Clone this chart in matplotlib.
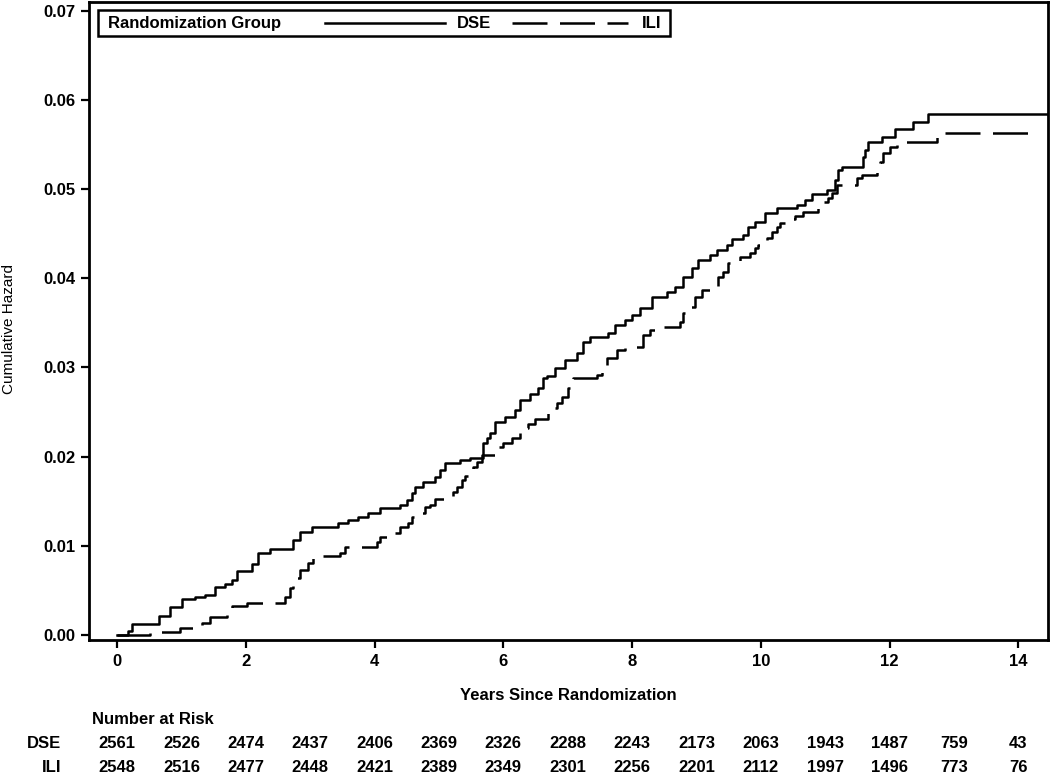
import matplotlib
matplotlib.use("Agg")
import matplotlib.pyplot as plt
import matplotlib.transforms as mtransforms
from matplotlib.patches import Rectangle
from matplotlib.ticker import FormatStrFormatter

plt.rcParams["font.family"] = ["Liberation Sans", "DejaVu Sans"]

# cumulative hazard step points (years, hazard)
dse_t = [0.00, 0.17, 0.23, 0.65, 0.82, 1.01, 1.21, 1.37, 1.52, 1.68, 1.79, 1.86,
         2.10, 2.19, 2.38, 2.73, 2.84, 3.03, 3.43, 3.59, 3.74, 3.90, 4.08, 4.39,
         4.50, 4.58, 4.63, 4.75, 4.94, 5.02, 5.09, 5.33, 5.48, 5.68, 5.75, 5.79,
         5.87, 6.02, 6.18, 6.26, 6.41, 6.54, 6.61, 6.68, 6.80, 6.96, 7.14, 7.24,
         7.34, 7.62, 7.73, 7.89, 8.00, 8.12, 8.31, 8.54, 8.66, 8.79, 8.93, 9.02,
         9.21, 9.32, 9.47, 9.55, 9.72, 9.80, 9.91, 10.06, 10.25, 10.56, 10.68,
         10.79, 11.02, 11.15, 11.20, 11.26, 11.58, 11.61, 11.66, 11.88, 12.08,
         12.36, 12.59, 14.60]
dse_h = [0.00000, 0.00045, 0.00123, 0.00213, 0.00314, 0.00404, 0.00426, 0.00448,
         0.00538, 0.00572, 0.00617, 0.00717, 0.00796, 0.00919, 0.00964, 0.01065,
         0.01155, 0.01211, 0.01256, 0.01289, 0.01323, 0.01368, 0.01424, 0.01457,
         0.01513, 0.01592, 0.01659, 0.01715, 0.01771, 0.01850, 0.01928, 0.01962,
         0.01984, 0.02152, 0.02208, 0.02264, 0.02388, 0.02444, 0.02522, 0.02634,
         0.02702, 0.02769, 0.02881, 0.02903, 0.02993, 0.03083, 0.03161, 0.03285,
         0.03341, 0.03385, 0.03475, 0.03531, 0.03587, 0.03666, 0.03789, 0.03845,
         0.03901, 0.04013, 0.04114, 0.04204, 0.04260, 0.04316, 0.04372, 0.04439,
         0.04484, 0.04574, 0.04630, 0.04731, 0.04787, 0.04821, 0.04877, 0.04944,
         0.04989, 0.05100, 0.05212, 0.05246, 0.05358, 0.05437, 0.05526, 0.05582,
         0.05672, 0.05750, 0.05840, 0.05840]

ili_t = [0.00, 0.51, 0.98, 1.24, 1.32, 1.44, 1.71, 1.79, 2.02, 2.61, 2.69, 2.73,
         2.84, 2.97, 3.04, 3.46, 3.54, 4.04, 4.08, 4.21, 4.39, 4.52, 4.58, 4.66,
         4.78, 4.86, 4.94, 5.22, 5.28, 5.36, 5.40, 5.53, 5.59, 5.67, 5.90, 5.99,
         6.13, 6.26, 6.38, 6.49, 6.69, 6.77, 6.83, 6.91, 7.00, 7.08, 7.45, 7.53,
         7.61, 7.76, 7.89, 8.17, 8.28, 8.39, 8.74, 8.79, 8.87, 8.98, 9.08, 9.33,
         9.41, 9.49, 9.67, 9.83, 9.91, 9.95, 10.09, 10.17, 10.25, 10.30, 10.42,
         10.53, 10.65, 10.89, 10.96, 11.04, 11.10, 11.18, 11.49, 11.57, 11.80,
         11.85, 11.89, 12.00, 12.11, 12.73, 14.20]
ili_h = [0.00000, 0.00034, 0.00078, 0.00101, 0.00135, 0.00202, 0.00280, 0.00325,
         0.00359, 0.00426, 0.00527, 0.00639, 0.00729, 0.00807, 0.00886, 0.00919,
         0.00986, 0.01043, 0.01099, 0.01143, 0.01211, 0.01256, 0.01323, 0.01368,
         0.01435, 0.01457, 0.01525, 0.01603, 0.01659, 0.01738, 0.01782, 0.01883,
         0.01939, 0.02018, 0.02107, 0.02152, 0.02208, 0.02320, 0.02365, 0.02421,
         0.02500, 0.02545, 0.02601, 0.02668, 0.02769, 0.02881, 0.02915, 0.02993,
         0.03105, 0.03195, 0.03228, 0.03363, 0.03419, 0.03452, 0.03509, 0.03609,
         0.03677, 0.03789, 0.03867, 0.04013, 0.04069, 0.04170, 0.04237, 0.04282,
         0.04338, 0.04372, 0.04450, 0.04518, 0.04574, 0.04618, 0.04663, 0.04697,
         0.04742, 0.04821, 0.04854, 0.04899, 0.04955, 0.05044, 0.05123, 0.05156,
         0.05257, 0.05302, 0.05403, 0.05470, 0.05526, 0.05627, 0.05627]

# number at risk table
risk_years = list(range(15))
dse_risk = [2561, 2526, 2474, 2437, 2406, 2369, 2326, 2288, 2243, 2173, 2063, 1943, 1487, 759, 43]
ili_risk = [2548, 2516, 2477, 2448, 2421, 2389, 2349, 2301, 2256, 2201, 2112, 1997, 1496, 773, 76]

x_ticks = [0, 2, 4, 6, 8, 10, 12, 14]
y_ticks = [0.00, 0.01, 0.02, 0.03, 0.04, 0.05, 0.06, 0.07]

fig = plt.figure(figsize=(10.5, 7.74), dpi=100)
ax = fig.add_axes([0.0848, 0.1731, 0.9133, 0.8243])

ax.step(dse_t, dse_h, where="post", color="black", lw=1.8)
ax.step(ili_t, ili_h, where="post", color="black", lw=1.8, dashes=(14, 5))

ax.set_xlim(-0.435, 14.46)
ax.set_ylim(-0.00056, 0.07097)
ax.set_xticks(x_ticks)
ax.set_yticks(y_ticks)
ax.yaxis.set_major_formatter(FormatStrFormatter("%.2f"))
ax.tick_params(direction="out", length=6, width=1.6, labelsize=12, pad=4)
for lab in ax.get_xticklabels() + ax.get_yticklabels():
    lab.set_fontweight("bold")
for sp in ax.spines.values():
    sp.set_linewidth(2)

ax.set_xlabel("Years Since Randomization", fontsize=12, fontweight="bold", labelpad=14)
fig.text(0.009, 0.575, "Cumulative Hazard", rotation=90, ha="center", va="center", fontsize=11)

# legend box drawn by hand (SAS style, one row)
ax.add_patch(Rectangle((0.0094, 0.9467), 0.5964, 0.0408, transform=ax.transAxes,
                       fill=False, lw=1.8, ec="black"))
ax.text(0.0198, 0.967, "Randomization Group", transform=ax.transAxes,
        fontsize=12, fontweight="bold", va="center", ha="left")
ax.plot([0.246, 0.371], [0.967, 0.967], transform=ax.transAxes, color="black", lw=1.8)
ax.text(0.384, 0.967, "DSE", transform=ax.transAxes, fontsize=12, fontweight="bold",
        va="center", ha="left")
ax.plot([0.441, 0.562], [0.967, 0.967], transform=ax.transAxes, color="black", lw=1.8,
        dashes=(14, 5))
ax.text(0.577, 0.967, "ILI", transform=ax.transAxes, fontsize=12, fontweight="bold",
        va="center", ha="left")

# number at risk below the plot
tr = mtransforms.blended_transform_factory(ax.transData, fig.transFigure)
fig.text(0.0876, 0.0698, "Number at Risk", fontsize=12, fontweight="bold", va="center", ha="left")
fig.text(0.058, 0.0388, "DSE", fontsize=12, fontweight="bold", va="center", ha="right")
fig.text(0.058, 0.0090, "ILI", fontsize=12, fontweight="bold", va="center", ha="right")
for yr, a, b in zip(risk_years, dse_risk, ili_risk):
    ax.text(yr, 0.0388, str(a), transform=tr, fontsize=12, fontweight="bold",
            ha="center", va="center", clip_on=False)
    ax.text(yr, 0.0090, str(b), transform=tr, fontsize=12, fontweight="bold",
            ha="center", va="center", clip_on=False)

fig.savefig("out.png", dpi=100)
